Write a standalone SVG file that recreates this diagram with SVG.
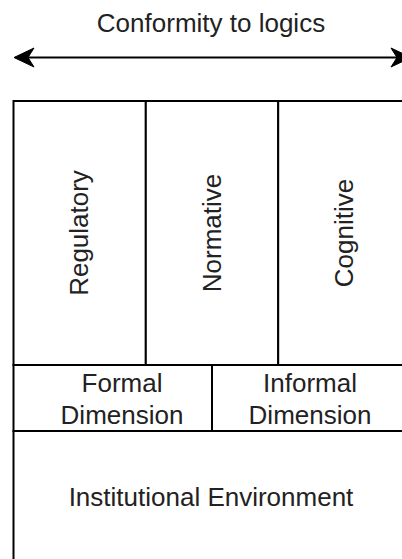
<svg xmlns="http://www.w3.org/2000/svg" width="402" height="559" viewBox="0 0 402 559">
  <style>
    .cell { fill: #ffffff; stroke: #000000; stroke-width: 2; }
    .label { font-family: "Liberation Sans", Arial, Helvetica, sans-serif; font-size: 26px; fill: #222222; text-anchor: middle; }
    .edge { stroke: #000000; stroke-width: 2; fill: none; }
    .head { fill: #000000; stroke: #000000; stroke-width: 1; stroke-linejoin: miter; }
  </style>
  <rect width="402" height="559" fill="#ffffff"/>

  <!-- title -->
  <g id="title">
    <text class="label" x="211" y="31.5">Conformity to logics</text>
  </g>

  <!-- double-headed arrow -->
  <g id="connectors">
    <line class="edge" x1="26" y1="57.5" x2="399" y2="57.5"/>
    <path class="head" d="M14,57.5 L34,48 L28,57.5 L34,67 Z"/>
    <path class="head" d="M411,57.5 L391,48 L397,57.5 L391,67 Z"/>
  </g>

  <!-- pillars -->
  <g id="regulatory">
    <rect class="cell" x="13.5" y="101" width="132.3" height="264"/>
    <text class="label" transform="translate(79.6,233) rotate(-90)" x="0" y="8.5">Regulatory</text>
  </g>
  <g id="normative">
    <rect class="cell" x="145.8" y="101" width="132.4" height="264"/>
    <text class="label" transform="translate(212,233) rotate(-90)" x="0" y="8.5">Normative</text>
  </g>
  <g id="cognitive">
    <rect class="cell" x="278.2" y="101" width="132.3" height="264"/>
    <text class="label" transform="translate(344.4,233) rotate(-90)" x="0" y="8.5">Cognitive</text>
  </g>

  <!-- dimensions -->
  <g id="formal-dimension">
    <rect class="cell" x="13.5" y="365" width="198.5" height="66"/>
    <text class="label" x="122" y="392">Formal</text>
    <text class="label" x="122" y="423.5">Dimension</text>
  </g>
  <g id="informal-dimension">
    <rect class="cell" x="212" y="365" width="198.5" height="66"/>
    <text class="label" x="310" y="392">Informal</text>
    <text class="label" x="310" y="423.5">Dimension</text>
  </g>

  <!-- base -->
  <g id="institutional-environment">
    <rect class="cell" x="13.5" y="431" width="397" height="133"/>
    <text class="label" x="211" y="506">Institutional Environment</text>
  </g>
</svg>
